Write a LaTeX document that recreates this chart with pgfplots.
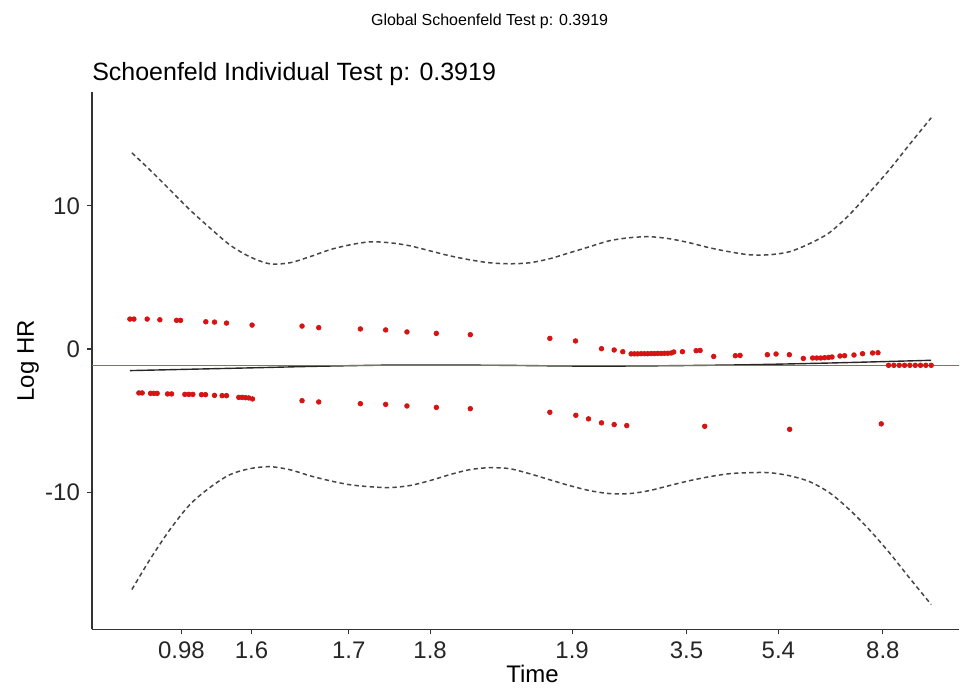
\documentclass[border=0pt]{standalone}
\usepackage{pgfplots}
\pgfplotsset{compat=1.18}
\usepackage{fontspec}
\setmainfont{Liberation Sans}
\definecolor{ptred}{RGB}{215,20,20}
\definecolor{zeroline}{RGB}{235,60,100}
\definecolor{bandgray}{RGB}{70,70,70}
\begin{document}
\begin{tikzpicture}
\begin{axis}[
  x=0.5pt, y=7.165pt,
  xmin=92, xmax=960, ymin=-19.59, ymax=17.95,
  axis lines=left,
  axis line style={-, line width=0.6pt, black!80},
  tick align=outside, major tick length=2.5pt,
  tick style={black!80, line width=0.6pt},
  xtick={181.5,251.7,349,430.5,572.6,687,779,883.6},
  xticklabels={0.98,1.6,1.7,1.8,1.9,3.5,5.4,8.8},
  ytick={-10,0,10}, yticklabels={-10,0,10},
  ticklabel style={font=\fontsize{12}{14}\selectfont, text=black!85},
  xlabel=Time, ylabel=Log HR,
  label style={font=\fontsize{12}{14}\selectfont},
  xlabel style={at={(axis description cs:0.508,-0.0836)}, anchor=center},
  ylabel style={at={(axis description cs:-0.0737,0.5)}, anchor=center},
  clip=false,
]
% confidence band
\addplot[bandgray, line width=0.75pt, dash pattern=on 2.2pt off 1.6pt, smooth] coordinates {
(132,13.70) (150,12.51) (170,11.12) (190,9.72) (210,8.46) (230,7.27) (250,6.44)
(270,5.95) (290,6.02) (310,6.44) (330,6.93) (350,7.27) (370,7.48) (390,7.42)
(410,7.21) (430,6.86) (450,6.51) (470,6.23) (490,6.02) (510,5.95) (530,6.02)
(550,6.30) (570,6.72) (590,7.14) (610,7.56) (630,7.77) (650,7.84) (670,7.70)
(690,7.42) (710,7.07) (730,6.79) (750,6.58) (770,6.58) (790,6.79) (810,7.35)
(830,8.12) (850,9.37) (870,10.91) (890,12.51) (910,14.26) (932,16.15)
};
\addplot[bandgray, line width=0.75pt, dash pattern=on 2.2pt off 1.6pt, smooth] coordinates {
(132,-16.80) (150,-14.71) (170,-12.62) (190,-10.87) (210,-9.68) (230,-8.78)
(250,-8.36) (270,-8.22) (290,-8.43) (310,-8.85) (330,-9.20) (350,-9.48)
(370,-9.62) (390,-9.68) (410,-9.54) (430,-9.20) (450,-8.78) (470,-8.43)
(490,-8.29) (510,-8.36) (530,-8.71) (550,-9.13) (570,-9.54) (590,-9.89)
(610,-10.10) (630,-10.10) (650,-9.89) (670,-9.54) (690,-9.20) (710,-8.92)
(730,-8.71) (750,-8.64) (770,-8.64) (790,-8.85) (810,-9.26) (830,-10.03)
(850,-11.21) (870,-12.62) (890,-14.22) (910,-15.97) (932,-17.85)
};
% fitted line
\addplot[black!85, line width=0.7pt, smooth] coordinates {
(130,-1.51) (250,-1.32) (317,-1.21) (400,-1.12) (500,-1.14) (600,-1.20)
(730,-1.12) (830,-0.98) (932,-0.79)
};
% reference line
\addplot[draw=zeroline, line width=0.8pt, mark=none] coordinates {(92,-1.14) (960,-1.14)};
% residuals
\addplot[only marks, mark=*, mark size=1.15pt, ptred] coordinates {
(130,2.09) (134,2.09) (147.3,2.09) (160,2.04) (176.7,2.00) (180.7,2.00)
(206,1.90) (214.7,1.88) (226.7,1.81) (252.3,1.67) (302.3,1.60) (319,1.49)
(360.7,1.40) (386,1.33) (407.3,1.19) (436.7,1.09) (470.7,1.00)
(550.3,0.74) (576,0.56) (602,0.02) (614.7,-0.07) (623.3,-0.19)
(631.7,-0.34) (635,-0.34) (638.3,-0.34) (641.7,-0.33) (645,-0.33) (648.3,-0.33)
(651.7,-0.32) (655,-0.32) (658.3,-0.31) (661.7,-0.31) (665,-0.30) (668.3,-0.30)
(671.7,-0.28) (674.3,-0.21) (683,-0.19) (696.7,-0.12) (700.7,-0.10)
(714.3,-0.52) (736,-0.47) (740.7,-0.45) (768,-0.40) (776.7,-0.35) (790,-0.40)
(804,-0.66) (813.3,-0.63) (817.3,-0.63) (821.3,-0.63) (825.3,-0.61)
(829.3,-0.59) (832.7,-0.56) (840.7,-0.49) (845.3,-0.47) (854.7,-0.42)
(863.3,-0.33) (873.3,-0.28) (878.7,-0.26)
(889.3,-1.14) (894.6,-1.14) (900,-1.14) (905.3,-1.14) (910.6,-1.14)
(916,-1.14) (921.3,-1.14) (926.6,-1.14) (932,-1.14)
(139,-3.07) (142.3,-3.07) (150.7,-3.10) (154,-3.10) (157.3,-3.10)
(167.7,-3.14) (171.7,-3.14) (185,-3.17) (189,-3.17) (193,-3.17)
(201.7,-3.19) (205.7,-3.19) (214.7,-3.24) (222.3,-3.26) (226.7,-3.26)
(239,-3.38) (242.3,-3.38) (245.7,-3.40) (249,-3.42) (252.7,-3.49)
(302.3,-3.61) (319,-3.70) (360.7,-3.82) (386,-3.87) (407.3,-3.98)
(436.7,-4.08) (470.7,-4.17) (550.3,-4.42) (576.3,-4.63) (589,-4.88)
(602,-5.16) (614.7,-5.28) (627.3,-5.35) (705.3,-5.40) (790.3,-5.61)
(882,-5.23)
};
\coordinate (ll) at (rel axis cs:0,0);
\node[anchor=base west, inner sep=0pt, font=\fontsize{12.5}{15}\selectfont]
  at ([yshift=5.5pt]rel axis cs:0,1) {Schoenfeld Individual Test p: 0.3919};
\node[anchor=base, inner sep=0pt, font=\fontsize{8}{10}\selectfont]
  at ([yshift=33.5pt]rel axis cs:0.4585,1) {Global Schoenfeld Test p: 0.3919};
\end{axis}
\path ([shift={(-46pt,-27.5pt)}]ll) rectangle ++(480pt,342.5pt);
\end{tikzpicture}
\end{document}
